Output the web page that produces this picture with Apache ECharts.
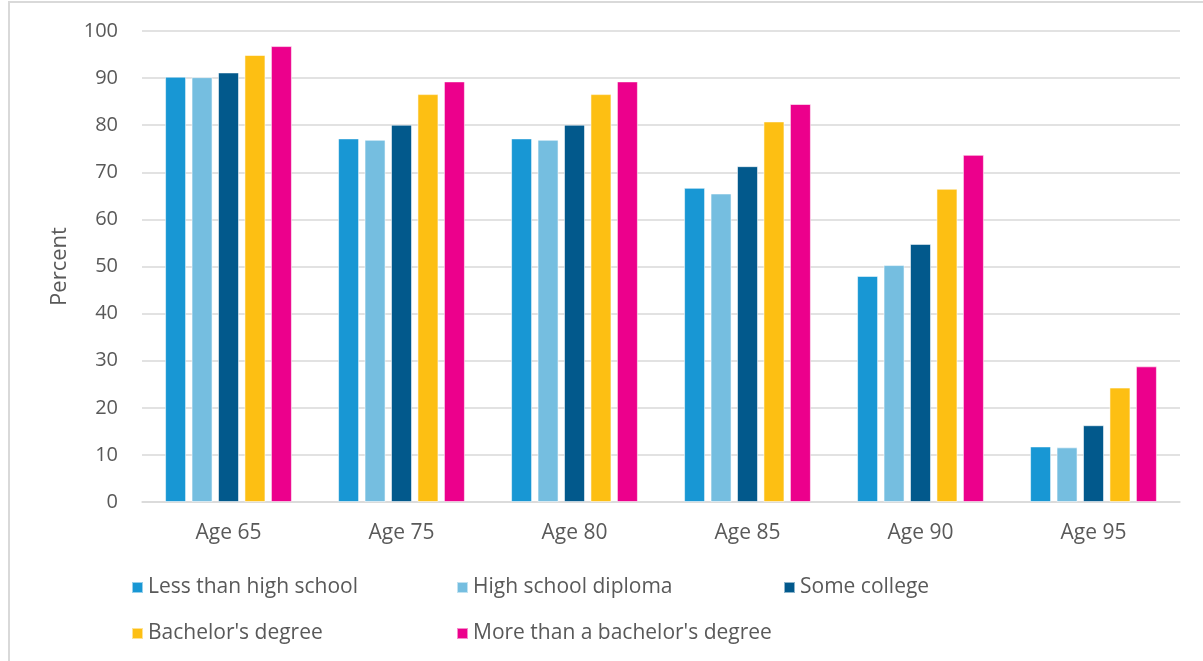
<!DOCTYPE html>
<html>
<head>
<meta charset="utf-8">
<title>Percent by age and education</title>
<script src="https://cdn.jsdelivr.net/npm/echarts@6/dist/echarts.min.js"></script>
<style>
  html, body { margin: 0; padding: 0; background: #ffffff; }
  #chart { width: 1203px; height: 661px; }
</style>
</head>
<body>
<div id="chart"></div>
<script>
// Age groups along the x axis
const categories = ['Age 65', 'Age 75', 'Age 80', 'Age 85', 'Age 90', 'Age 95'];

// Percent by highest education level
const lessThanHighSchool = [90.3, 77.2, 77.2, 66.7, 48.0, 11.8];
const highSchoolDiploma  = [90.2, 76.9, 76.9, 65.5, 50.3, 11.6];
const someCollege        = [91.2, 80.1, 80.1, 71.3, 54.8, 16.3];
const bachelorsDegree    = [94.9, 86.6, 86.6, 80.8, 66.5, 24.3];
const moreThanBachelors  = [96.8, 89.3, 89.3, 84.5, 73.7, 28.8];

const seriesNames = [
  'Less than high school',
  'High school diploma',
  'Some college',
  "Bachelor's degree",
  "More than a bachelor's degree"
];
const seriesValues = [lessThanHighSchool, highSchoolDiploma, someCollege, bachelorsDegree, moreThanBachelors];
const seriesColors = ['#1897d4', '#75bee0', '#02598c', '#fdbf13', '#ec008c'];

// Y axis ticks
const yMin = 0, yMax = 100, yStep = 10;

const FONT = '"Open Sans", "Noto Sans", sans-serif';
const TEXT = '#595959';
const GRID = '#d9d9d9';

const chart = echarts.init(document.getElementById('chart'), null, { renderer: 'canvas' });

// Legend placed as a 3-column block, one component per entry
const legendSlots = [
  { left: 131, top: 577 },
  { left: 456, top: 577 },
  { left: 783, top: 577 },
  { left: 131, top: 623 },
  { left: 456, top: 623 }
];

const option = {
  animation: false,
  backgroundColor: '#ffffff',
  textStyle: { fontFamily: FONT },
  graphic: [{
    type: 'rect',
    shape: { x: 9, y: 2, width: 1400, height: 900 },
    style: { fill: 'none', stroke: GRID, lineWidth: 2 },
    silent: true,
    z: -10
  }],
  grid: { left: 142, right: 23, top: 31, bottom: 159, containLabel: false },
  legend: legendSlots.map((slot, i) => ({
    data: [seriesNames[i]],
    left: slot.left,
    top: slot.top,
    padding: 0,
    icon: 'rect',
    itemWidth: 11,
    itemHeight: 11,
    selectedMode: false,
    textStyle: { color: TEXT, fontSize: 21, fontFamily: FONT }
  })),
  xAxis: {
    type: 'category',
    data: categories,
    axisLine: { lineStyle: { color: GRID, width: 1.5 } },
    axisTick: { show: false },
    axisLabel: { color: TEXT, fontSize: 21, fontFamily: FONT, margin: 21 }
  },
  yAxis: {
    type: 'value',
    min: yMin,
    max: yMax,
    interval: yStep,
    name: 'Percent',
    nameLocation: 'middle',
    nameGap: 71,
    nameTextStyle: { color: TEXT, fontSize: 22, fontFamily: FONT },
    axisLine: { show: false },
    axisTick: { show: false },
    axisLabel: { color: TEXT, fontSize: 20, fontFamily: FONT, margin: 24 },
    splitLine: { lineStyle: { color: GRID, width: 1.5 } }
  },
  series: seriesNames.map((name, i) => ({
    name: name,
    type: 'bar',
    data: seriesValues[i],
    barWidth: 21,
    barGap: '26%',
    itemStyle: {
      color: seriesColors[i],
      borderColor: 'rgba(255,255,255,0.55)',
      borderWidth: 1
    }
  }))
};

chart.setOption(option);
</script>
</body>
</html>
